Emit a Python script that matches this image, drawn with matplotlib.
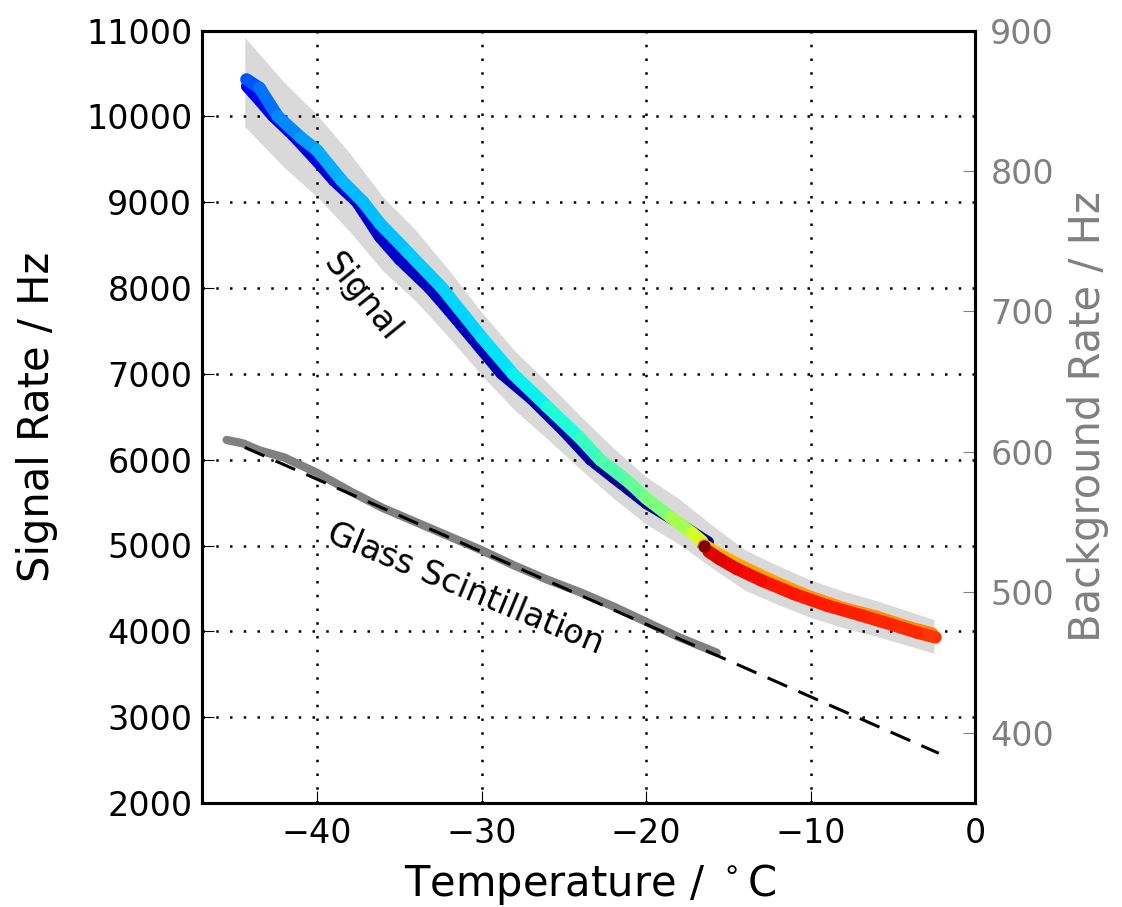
import matplotlib
matplotlib.use("Agg")
import matplotlib.pyplot as plt
import numpy as np
from matplotlib.collections import LineCollection

# signal rate vs temperature, colour = position in the run (jet colormap, 0..1)
# first leg: cooling from -16 C down to -44 C
cool_T = [-16.2, -18.0, -20.0, -22.0, -23.4, -25.0, -27.0, -28.8, -30.0, -32.0,
          -33.2, -35.0, -36.2, -37.6, -39.0, -40.0, -41.5, -42.7, -43.9, -44.3]
cool_rate = [5040, 5260, 5490, 5790, 6000, 6330, 6710, 7000, 7275, 7735,
             8000, 8330, 8591, 9000, 9250, 9470, 9780, 10000, 10267, 10350]
cool_c = [0.0, 0.01, 0.015, 0.02, 0.025, 0.03, 0.035, 0.04, 0.045, 0.05,
          0.055, 0.06, 0.065, 0.07, 0.075, 0.08, 0.085, 0.09, 0.1, 0.12]

# second leg: warming back up to -16 C
warm_T = [-44.3, -43.5, -42.4, -41.0, -40.0, -38.5, -37.2, -36.2, -34.5, -32.4,
          -30.0, -28.1, -26.0, -24.0, -22.8, -21.0, -20.0, -18.5, -17.2, -16.6]
warm_rate = [10430, 10330, 10000, 9754, 9603, 9250, 9000, 8754, 8417, 8000,
             7426, 7000, 6616, 6250, 6000, 5730, 5550, 5330, 5145, 5050]
warm_c = [0.2, 0.22, 0.25, 0.27, 0.29, 0.3, 0.31, 0.31, 0.32, 0.33,
          0.34, 0.35, 0.37, 0.40, 0.43, 0.46, 0.48, 0.52, 0.58, 0.63]

# third leg: warming on to -2.5 C
hot_T = [-16.5, -15.5, -14.0, -12.0, -10.0, -8.0, -6.0, -4.0, -2.6]
hot_rate = [5010, 4890, 4740, 4560, 4400, 4270, 4170, 4045, 3975]
hot_c = [0.70, 0.72, 0.73, 0.74, 0.75, 0.75, 0.76, 0.76, 0.77]

# last leg: back down to -16 C
back_T = [-2.4, -3.5, -5.0, -7.0, -9.0, -11.0, -13.0, -14.5, -15.5, -16.2]
back_rate = [3930, 3985, 4075, 4190, 4300, 4435, 4595, 4730, 4840, 4930]
back_c = [0.85, 0.86, 0.87, 0.87, 0.88, 0.88, 0.89, 0.9, 0.91, 0.92]

end_T, end_rate = -16.5, 5000

# +/-5 % systematic band around the signal
band_T = [-44.4, -42, -40, -38, -36, -34, -32, -30, -28, -26, -24,
          -22, -20, -18, -16, -14, -12, -10, -8, -6, -4, -2.5]
band_hi = [10920, 10395, 10017, 9566, 9062, 8673, 8211, 7718, 7271, 6899, 6510,
           6137, 5801, 5544, 5240, 4951, 4767, 4599, 4468, 4358, 4232, 4137]
band_lo = [9880, 9405, 9063, 8655, 8199, 7847, 7429, 6983, 6579, 6242, 5890,
           5553, 5249, 5016, 4741, 4479, 4313, 4161, 4042, 3943, 3829, 3743]

# background (glass scintillation), right axis
glass_T = [-45.5, -44.5, -43.5, -42, -40, -38, -36, -34, -32, -30,
           -28, -26, -24, -22, -20, -18, -15.7]
glass_rate = [608.5, 606, 601, 596, 585, 572, 560, 550, 540, 530,
              519, 509, 500, 490, 479, 468, 457]
fit_T = [-44.4, -2.2]
fit_rate = [603.2, 385.4]

GREY = "#808080"
FS = 24
LFS = 30
plt.rcParams["font.family"] = "DejaVu Sans"
plt.rcParams["font.size"] = FS


def trace(ax, T, rate, c, lw=9):
    pts = np.column_stack([T, rate])
    segs = np.stack([pts[:-1], pts[1:]], axis=1)
    c = np.asarray(c, dtype=float)
    lc = LineCollection(segs, cmap="jet", norm=plt.Normalize(0, 1),
                        linewidths=lw, capstyle="round", joinstyle="round",
                        zorder=2)
    lc.set_array(0.5 * (c[:-1] + c[1:]))
    ax.add_collection(lc)


fig = plt.figure(figsize=(11.22, 9.07), dpi=100)
ax = fig.add_axes([202 / 1122, 1 - 803 / 907, 773 / 1122, 772.5 / 907])
ax2 = ax.twinx()

ax.fill_between(band_T, band_lo, band_hi, color="#d9d9d9", lw=0, zorder=0.2)
trace(ax, cool_T, cool_rate, cool_c, lw=8)
trace(ax, warm_T, warm_rate, warm_c)
trace(ax, hot_T, hot_rate, hot_c)
trace(ax, back_T, back_rate, back_c)
ax.scatter([end_T], [end_rate], c=[1.0], cmap="jet", vmin=0, vmax=1,
           s=80, lw=0, zorder=3)

ax2.plot(glass_T, glass_rate, color=GREY, lw=6, solid_capstyle="round")
ax2.plot(fit_T, fit_rate, color="k", lw=2.2, dashes=(7, 4))

ax.text(-37.3, 7890, "Signal", rotation=-51, ha="center", va="center")
ax.text(-31.0, 4500, "Glass Scintillation", rotation=-22.5,
        ha="center", va="center")

ax.set_xlim(-47, 0)
ax.set_ylim(2000, 11000)
ax2.set_ylim(350, 900)
ax.set_xticks(np.arange(-40, 1, 10))
ax.set_yticks(np.arange(2000, 11001, 1000))
ax2.set_yticks(np.arange(400, 901, 100))

ax.set_axisbelow(True)
ax.grid(True, color="k", linestyle=(0, (1, 4.5)), linewidth=1.8)

ax.tick_params(axis="both", direction="in", length=8.5, width=0.8,
               top=False, right=False, labelsize=FS)
ax.tick_params(axis="y", pad=7)
ax.tick_params(axis="x", pad=10)
ax2.tick_params(axis="y", direction="in", length=9, width=0.8, colors=GREY,
                labelcolor=GREY, pad=11, labelsize=FS)
for a in (ax, ax2):
    for s in a.spines.values():
        s.set_linewidth(2.2)
        s.set_color("k")

ax.set_xlabel(r"Temperature / $^\circ$C", fontsize=LFS)
ax.set_ylabel("Signal Rate / Hz", fontsize=LFS)
ax2.set_ylabel("Background Rate / Hz", fontsize=LFS, color=GREY)
ax.xaxis.set_label_coords(0.502, -0.076)
ax.yaxis.set_label_coords(-0.186, 0.5)
ax2.yaxis.set_label_coords(1.119, 0.5)

fig.savefig("out.png", dpi=100)
